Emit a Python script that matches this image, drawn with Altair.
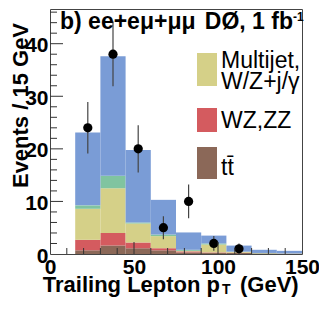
import altair as alt
import pandas as pd

# ---- data ----
bin_lo = [15, 30, 45, 60, 75, 90, 105, 120, 135]
bin_hi = [30, 45, 60, 75, 90, 105, 120, 135, 150]
comp_names = ["ttbar", "WZ,ZZ", "Multijet", "green", "blue"]
ttbar    = [0.7, 1.6, 1.1, 0.7, 0.3, 0.2, 0.2, 0.1, 0.05]
wzzz     = [2.0, 2.4, 1.1, 0.4, 0.2, 0.1, 0.05, 0.0, 0.0]
multijet = [5.9, 8.5, 3.6, 2.3, 0.1, 1.5, 0.15, 0.05, 0.05]
green    = [0.65, 2.4, 0.2, 0.3, 0.2, 0.2, 0.05, 0.05, 0.0]
blue     = [13.85, 22.7, 13.8, 6.6, 3.3, 1.5, 1.15, 0.6, 0.5]
comp_colors = ["#8b6858", "#d45b5f", "#d5d088", "#80c4a0", "#7a9cd6"]

data_x  = [22.5, 37.5, 52.5, 67.5, 82.5, 97.5, 112.5]
data_y  = [24, 38, 20, 5, 10, 2, 1]
err_lo  = [4.9, 6.1, 4.5, 2.2, 3.2, 1.4, 1.0]
err_hi  = [4.9, 6.2, 4.5, 2.2, 3.2, 1.4, 1.0]

x_labels = [0, 50, 100, 150]
y_labels = [0, 10, 20, 30, 40]
x_minor = [10, 20, 30, 40, 60, 70, 80, 90, 110, 120, 130, 140]
x_major = [50, 100]
y_minor = [2, 4, 6, 8, 12, 14, 16, 18, 22, 24, 26, 28, 32, 34, 36, 38, 42, 44, 46]
y_major = [10, 20, 30, 40]

# ---- tables ----
rows = []
series = [ttbar, wzzz, multijet, green, blue]
cum = [0.0] * len(bin_lo)
for name, vals in zip(comp_names, series):
    for i, v in enumerate(vals):
        rows.append({"lo": bin_lo[i], "hi": bin_hi[i], "y0": cum[i], "y1": cum[i] + v, "comp": name})
        cum[i] += v
stack_df = pd.DataFrame(rows)

pts = pd.DataFrame({"x": data_x, "y": data_y,
                    "lo": [y - e for y, e in zip(data_y, err_lo)],
                    "hi": [y + e for y, e in zip(data_y, err_hi)]})

FONT = "Liberation Sans"
W, H = 252, 245
XMAX, YMAX = 150, 46.6

xscale = alt.Scale(domain=[0, XMAX], nice=False, zero=False)
yscale = alt.Scale(domain=[0, YMAX], nice=False, zero=False)

bars = alt.Chart(stack_df).mark_bar(stroke=None).encode(
    x=alt.X("lo:Q", scale=xscale, title=None,
            axis=alt.Axis(values=x_labels, ticks=False, domain=False, grid=False,
                          labelFont=FONT, labelFontSize=21, labelFontWeight="bold",
                          labelColor="black", labelPadding=2, labelFlush=False)),
    x2="hi:Q",
    y=alt.Y("y0:Q", scale=yscale,
            axis=alt.Axis(values=y_labels, ticks=False, domain=False, grid=False,
                          labelFont=FONT, labelFontSize=21, labelFontWeight="bold",
                          labelColor="black", labelPadding=2, labelOffset=2, labelFlush=False,
                          title="Events / 15 GeV", titleFont=FONT, titleFontSize=22,
                          titleFontWeight="bold", titleColor="black", titleAngle=270,
                          titleX=-23, titleY=96, titleAlign="center",
                          titleBaseline="alphabetic")),
    y2="y1:Q",
    color=alt.Color("comp:N", scale=alt.Scale(domain=comp_names, range=comp_colors), legend=None),
)

errs = alt.Chart(pts).mark_rule(color="#444", strokeWidth=1.2).encode(
    x=alt.X("x:Q", scale=xscale), y=alt.Y("lo:Q", scale=yscale), y2="hi:Q")
dots = alt.Chart(pts).mark_circle(size=85, color="black", opacity=1).encode(
    x=alt.X("x:Q", scale=xscale), y=alt.Y("y:Q", scale=yscale))

def xticks(vals, length):
    return alt.Chart(pd.DataFrame({"v": vals})).mark_rule(color="#333", strokeWidth=1).encode(
        x=alt.X("v:Q", scale=xscale), y=alt.value(H), y2=alt.value(H - length))

def yticks(vals, length):
    return alt.Chart(pd.DataFrame({"v": vals})).mark_rule(color="#333", strokeWidth=1).encode(
        y=alt.Y("v:Q", scale=yscale), x=alt.value(0), x2=alt.value(length))

def txt(s, x, y, size, weight="normal", align="left"):
    return alt.Chart(pd.DataFrame({"t": [s]})).mark_text(
        align=align, baseline="alphabetic", font=FONT, fontSize=size,
        fontWeight=weight, color="black").encode(
        x=alt.value(x), y=alt.value(y), text="t:N")

def swatch(color, y0, y1):
    return alt.Chart(pd.DataFrame({"c": [color]})).mark_rect(color=color).encode(
        x=alt.value(147), x2=alt.value(167), y=alt.value(y0), y2=alt.value(y1))

legend = [
    swatch(comp_colors[2], 44, 77),
    swatch(comp_colors[1], 99, 123),
    swatch(comp_colors[0], 138, 170),
    txt("Multijet,", 171, 59, 23),
    txt("W/Z+j/\u03b3", 171, 80, 23),
    txt("WZ,ZZ", 171, 119, 23),
    txt("tt\u0304", 171, 166, 23),
]

titles = [
    txt("b) ee+e\u03bc+\u03bc\u03bc", 10, 20, 23, "bold"),
    txt("D\u00d8, 1 fb", 243, 20, 23, "bold", "right"),
    txt("-1", 243, 12, 12, "bold"),
    txt("Trailing Lepton p", 170, 283, 22, "bold", "right"),
    txt("T", 172, 285, 14, "bold"),
    txt("(GeV)", 190, 283, 22, "bold"),
]

chart = alt.layer(
    bars, errs, dots,
    xticks(x_minor, 6), xticks(x_major, 12),
    yticks(y_minor, 7), yticks(y_major, 13),
    *legend, *titles,
).properties(
    width=W, height=H, autosize="none",
    padding={"left": 42, "top": 1, "right": 17, "bottom": 43},
).configure_view(stroke="#444", strokeWidth=1)

chart.save("out.html", embed_options={"renderer": "svg", "actions": False})
